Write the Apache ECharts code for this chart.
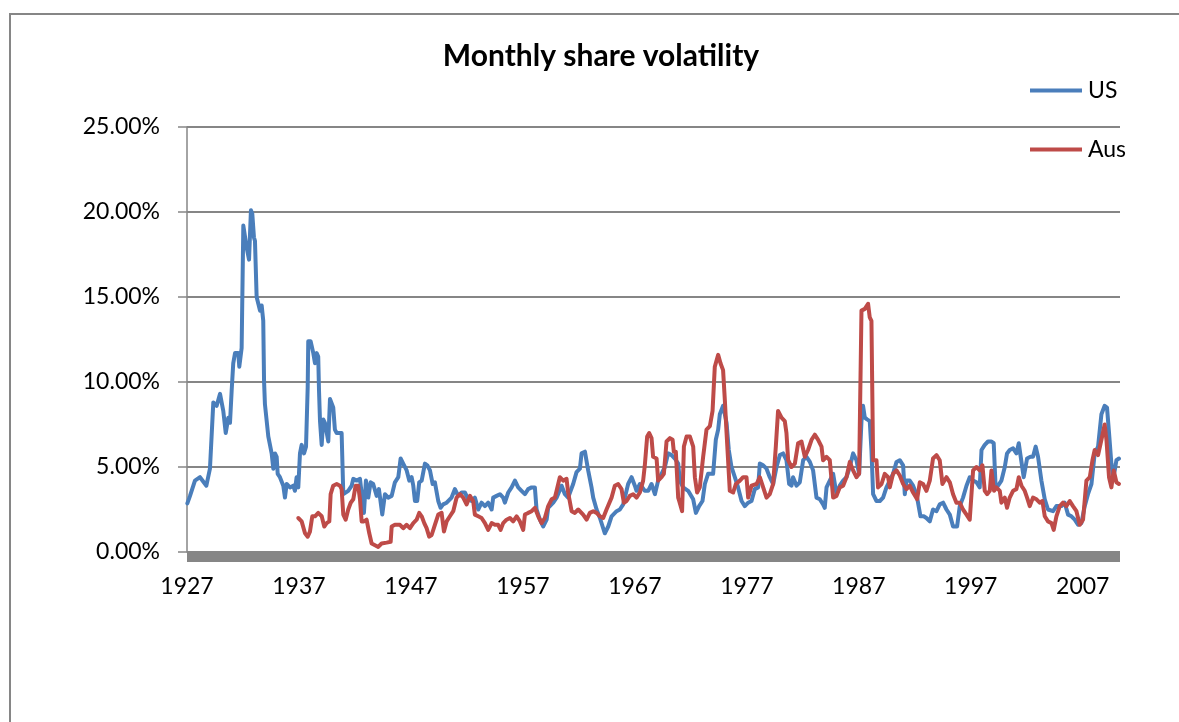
<!DOCTYPE html>
<html><head><meta charset="utf-8">
<script src="https://cdn.jsdelivr.net/npm/echarts@6/dist/echarts.min.js"></script>
<style>html,body{margin:0;padding:0;background:#fff}#c{width:1179px;height:722px}</style>
</head><body><div id="c"></div>
<script>
const seriesNames = ['US', 'Aus'];
const xTickStart = 1927, xTickStep = 10, xEnd = 2010.33;
const yTickStep = 5, yMax = 25;

const usYear = [1927.03,1927.27,1927.71,1928.16,1928.73,1929.05,1929.35,1929.65,1929.95,1930.24,1930.46,1930.69,1930.84,1930.99,1931.13,1931.29,1931.58,1931.67,1931.88,1932.03,1932.18,1932.33,1932.54,1932.71,1932.83,1932.98,1933.07,1933.22,1933.37,1933.52,1933.67,1933.81,1933.88,1933.96,1934.26,1934.56,1934.71,1934.86,1935.01,1935.10,1935.30,1935.60,1935.75,1935.90,1936.20,1936.49,1936.64,1936.79,1936.94,1937.09,1937.24,1937.45,1937.63,1937.78,1937.83,1938.04,1938.28,1938.43,1938.58,1938.72,1938.79,1938.88,1939.03,1939.17,1939.32,1939.47,1939.62,1939.77,1939.92,1940.06,1940.21,1940.37,1940.81,1940.96,1941.40,1941.71,1941.85,1942.15,1942.45,1942.60,1942.80,1942.98,1943.19,1943.40,1943.63,1943.94,1944.14,1944.44,1944.68,1944.97,1945.28,1945.57,1945.87,1946.08,1946.31,1946.62,1946.85,1947.06,1947.21,1947.36,1947.56,1947.74,1947.96,1948.25,1948.46,1948.70,1948.94,1949.14,1949.44,1949.65,1949.88,1950.19,1950.63,1950.93,1951.22,1951.53,1951.82,1952.12,1952.42,1952.71,1953.01,1953.31,1953.61,1953.90,1954.21,1954.35,1954.65,1954.95,1955.24,1955.39,1955.69,1955.99,1956.29,1956.58,1956.88,1957.18,1957.47,1957.78,1958.07,1958.22,1958.52,1958.81,1959.12,1959.26,1959.71,1960.01,1960.46,1960.75,1961.04,1961.49,1961.79,1962.09,1962.24,1962.54,1962.69,1962.83,1963.13,1963.28,1963.58,1963.88,1964.12,1964.32,1964.62,1964.92,1965.37,1965.66,1965.96,1966.40,1966.71,1967.00,1967.15,1967.45,1967.89,1968.19,1968.49,1968.79,1969.08,1969.38,1969.68,1969.97,1970.28,1970.57,1970.87,1971.02,1971.31,1971.76,1972.21,1972.45,1972.74,1973.04,1973.25,1973.54,1973.99,1974.23,1974.44,1974.59,1974.88,1975.19,1975.39,1975.63,1975.93,1976.22,1976.53,1976.82,1977.12,1977.42,1977.71,1978.01,1978.16,1978.46,1978.76,1979.05,1979.35,1979.65,1979.95,1980.24,1980.54,1980.78,1980.99,1981.13,1981.44,1981.73,1982.03,1982.33,1982.63,1982.92,1983.22,1983.52,1983.81,1983.96,1984.12,1984.41,1984.71,1985.01,1985.30,1985.60,1985.90,1986.20,1986.49,1986.79,1987.03,1987.24,1987.38,1987.54,1987.74,1987.98,1988.13,1988.28,1988.58,1988.88,1989.17,1989.47,1989.77,1990.06,1990.37,1990.66,1990.96,1991.11,1991.26,1991.55,1991.85,1992.15,1992.29,1992.51,1992.80,1993.04,1993.34,1993.63,1993.94,1994.23,1994.53,1994.83,1995.13,1995.42,1995.78,1996.02,1996.31,1996.62,1996.91,1997.21,1997.51,1997.80,1997.96,1998.25,1998.54,1998.85,1999.05,1999.21,1999.44,1999.74,2000.04,2000.24,2000.48,2000.78,2001.08,2001.29,2001.44,2001.73,2002.03,2002.33,2002.56,2002.80,2003.01,2003.31,2003.61,2003.90,2004.35,2004.65,2005.10,2005.39,2005.69,2005.99,2006.29,2006.58,2006.88,2007.18,2007.47,2007.78,2008.07,2008.37,2008.67,2008.96,2009.17,2009.35,2009.56,2009.71,2009.86,2010.01,2010.24];
const usVol = [2.86,3.3,4.2,4.4,3.9,4.9,8.8,8.6,9.3,8.3,7.0,7.9,7.6,9.5,11.1,11.7,11.7,10.9,12.0,19.2,19.1,17.9,17.2,20.1,19.9,18.5,18.3,15.0,14.6,14.2,14.5,13.6,10.1,8.7,6.8,5.8,4.9,5.8,5.6,4.6,4.4,3.9,3.2,4.0,3.8,3.9,3.6,4.4,3.8,5.8,6.3,5.8,6.2,9.7,12.4,12.4,11.7,11.1,11.7,11.5,9.5,7.7,6.3,7.8,7.6,7.7,6.5,9.0,9.1,8.5,7.2,7.0,7.0,3.4,3.6,3.9,4.3,4.2,4.3,4.2,2.3,4.2,3.2,4.1,4.0,3.3,3.7,2.2,3.4,3.2,3.3,4.1,4.4,5.5,5.2,4.8,4.2,4.4,3.9,3.0,3.0,4.1,4.2,5.2,5.1,4.8,4.0,4.1,3.0,2.6,2.8,2.9,3.2,3.7,3.3,3.5,3.5,3.1,3.0,3.2,2.5,2.9,2.7,2.9,2.5,3.2,3.3,3.4,3.2,2.9,3.5,3.8,4.2,3.8,3.6,3.4,3.7,3.8,3.8,2.5,1.9,1.5,1.9,2.6,2.9,3.2,3.9,3.4,3.2,4.0,4.7,4.9,5.8,5.9,6.0,4.8,3.8,3.2,2.5,2.0,1.5,1.1,1.5,2.1,2.4,2.5,2.8,4.0,4.4,3.9,3.6,4.0,3.6,3.6,4.0,3.4,4.2,4.6,5.0,5.8,5.7,5.5,5.2,4.2,3.8,3.6,3.1,2.3,2.7,3.0,4.0,4.6,4.6,6.6,7.2,8.1,8.6,7.6,6.0,5.0,4.4,3.8,3.0,2.7,2.9,3.0,3.7,3.8,5.2,5.1,4.9,4.4,4.0,5.0,5.7,5.8,5.4,4.0,3.9,4.4,3.9,4.1,5.4,5.6,5.3,4.8,3.2,3.1,2.8,2.6,3.8,4.2,4.6,3.4,3.9,4.2,4.4,5.0,5.8,5.4,4.6,7.7,8.6,7.9,7.8,7.7,6.0,3.4,3.0,3.0,3.2,3.8,4.2,4.6,5.3,5.4,5.1,3.4,4.2,4.2,3.9,3.4,2.9,2.1,2.1,2.0,1.8,2.5,2.4,2.8,2.9,2.5,2.2,1.5,1.5,2.7,3.2,3.9,4.4,4.2,4.1,3.8,6.0,6.3,6.5,6.5,6.4,4.0,3.9,4.2,5.0,5.8,6.0,6.1,5.8,6.4,5.7,4.4,5.5,5.6,5.6,6.2,5.6,4.2,3.1,2.5,2.4,2.7,2.7,2.9,2.2,2.1,1.9,1.6,1.7,2.7,3.4,4.0,5.8,6.2,8.1,8.6,8.5,7.0,5.2,4.4,4.8,5.4,5.5];

const ausYear = [1936.94,1937.24,1937.54,1937.78,1937.98,1938.19,1938.43,1938.72,1939.03,1939.26,1939.47,1939.71,1939.83,1940.06,1940.37,1940.66,1940.81,1940.96,1941.17,1941.40,1941.62,1941.85,1942.06,1942.29,1942.45,1942.60,1942.80,1943.04,1943.28,1943.49,1943.79,1944.08,1944.38,1944.83,1945.19,1945.28,1945.57,1946.02,1946.31,1946.62,1946.91,1947.21,1947.51,1947.74,1947.96,1948.19,1948.40,1948.63,1948.85,1949.14,1949.44,1949.74,1949.95,1950.19,1950.48,1950.78,1951.08,1951.38,1951.67,1951.97,1952.27,1952.56,1952.71,1953.01,1953.31,1953.61,1953.90,1954.21,1954.50,1954.79,1955.01,1955.24,1955.54,1955.84,1956.13,1956.44,1956.73,1957.03,1957.18,1957.47,1957.78,1958.07,1958.37,1958.67,1958.96,1959.26,1959.56,1959.86,1960.01,1960.30,1960.60,1960.90,1961.04,1961.35,1961.64,1961.94,1962.38,1962.69,1962.98,1963.28,1963.58,1963.88,1964.17,1964.47,1964.92,1965.21,1965.51,1965.81,1966.02,1966.26,1966.55,1966.85,1967.15,1967.45,1967.74,1967.89,1968.10,1968.28,1968.49,1968.63,1968.94,1969.08,1969.38,1969.59,1969.83,1970.13,1970.37,1970.48,1970.66,1970.87,1970.96,1971.22,1971.38,1971.62,1971.91,1972.21,1972.36,1972.56,1972.80,1973.10,1973.40,1973.70,1973.94,1974.14,1974.44,1974.65,1974.88,1975.04,1975.19,1975.48,1975.78,1976.02,1976.38,1976.67,1976.97,1977.12,1977.42,1977.87,1978.16,1978.46,1978.76,1979.05,1979.35,1979.59,1979.79,1980.10,1980.39,1980.54,1980.69,1980.99,1981.29,1981.58,1981.88,1982.18,1982.47,1982.78,1983.07,1983.37,1983.67,1983.81,1984.12,1984.41,1984.71,1985.01,1985.30,1985.60,1985.90,1986.20,1986.49,1986.79,1987.03,1987.24,1987.54,1987.83,1987.98,1988.13,1988.28,1988.58,1988.72,1989.03,1989.32,1989.62,1989.77,1990.06,1990.37,1990.66,1990.96,1991.26,1991.55,1991.85,1992.21,1992.45,1992.74,1993.04,1993.34,1993.63,1993.94,1994.23,1994.47,1994.83,1995.13,1995.42,1995.72,1996.02,1996.31,1996.62,1996.91,1997.21,1997.51,1997.80,1998.04,1998.25,1998.46,1998.70,1998.85,1999.08,1999.29,1999.59,1999.74,2000.04,2000.24,2000.48,2000.78,2001.08,2001.29,2001.53,2001.82,2002.03,2002.27,2002.56,2002.87,2003.16,2003.40,2003.61,2003.90,2004.21,2004.41,2004.65,2004.95,2005.24,2005.54,2005.84,2006.13,2006.44,2006.73,2007.03,2007.33,2007.63,2007.87,2008.07,2008.37,2008.67,2008.96,2009.12,2009.35,2009.56,2009.77,2010.01,2010.24];
const ausVol = [2.0,1.8,1.1,0.9,1.2,2.1,2.1,2.3,2.1,1.5,1.7,1.8,3.4,3.9,4.0,3.9,3.7,2.2,1.9,2.5,2.9,3.1,3.9,3.9,3.1,1.8,1.8,1.9,1.1,0.5,0.4,0.3,0.5,0.55,0.6,1.5,1.6,1.6,1.4,1.6,1.4,1.7,1.9,2.3,2.1,1.7,1.4,0.9,1.0,1.6,2.2,2.3,1.2,1.8,2.1,2.4,3.2,3.4,3.2,2.8,3.3,3.0,2.2,2.1,2.0,1.7,1.3,1.7,1.6,1.6,1.3,1.7,1.9,2.0,1.8,2.1,1.8,1.3,2.2,2.3,2.4,2.6,2.1,1.7,2.0,2.7,3.1,3.2,3.6,4.4,4.2,4.3,3.5,2.4,2.3,2.5,2.2,1.9,2.3,2.4,2.3,2.1,2.0,2.5,3.2,3.9,4.0,3.7,2.9,3.0,3.3,3.4,3.2,3.5,4.2,5.1,6.8,7.0,6.7,5.6,5.5,4.2,4.4,4.6,6.5,6.7,6.6,5.9,5.9,3.2,3.0,2.4,6.2,6.8,6.8,6.2,4.4,3.5,3.8,5.6,7.2,7.4,8.3,10.9,11.6,11.1,10.7,8.9,7.0,3.6,3.5,4.0,4.2,4.4,4.4,3.2,3.9,4.0,4.4,3.8,3.2,3.4,4.0,6.2,8.3,7.9,7.7,7.0,5.4,5.0,5.2,6.4,6.5,5.6,6.0,6.6,6.9,6.6,6.2,5.4,5.6,5.4,3.2,3.3,3.8,3.9,4.4,5.3,4.8,4.4,4.6,14.2,14.3,14.6,13.8,13.6,5.4,5.4,3.8,4.0,4.6,4.4,3.8,4.6,4.8,4.5,4.0,3.7,3.9,3.5,3.1,4.1,4.0,3.6,4.2,5.5,5.7,5.4,4.0,4.4,4.1,3.4,2.9,2.9,2.5,2.2,1.9,4.8,5.0,4.8,5.1,3.6,3.4,3.6,4.8,3.6,3.8,3.6,2.9,3.2,2.6,3.2,3.6,3.7,4.4,3.9,3.6,3.2,2.7,3.2,3.1,2.9,3.0,2.1,1.8,1.7,1.3,2.1,2.7,2.9,2.7,3.0,2.7,2.4,1.6,1.9,4.2,4.4,5.4,6.0,5.7,6.6,7.5,6.6,4.4,3.8,4.8,4.1,4.0];

const FONT = 'Lato, "Open Sans", sans-serif';
const GRAY = '#868686';
const chart = echarts.init(document.getElementById('c'), null, {renderer: 'canvas'});
const zip = (xs, ys) => xs.map((x, i) => [x, ys[i]]);

chart.setOption({
  backgroundColor: '#fff',
  animation: false,
  graphic: [{
    type: 'rect', shape: {x: 10, y: 14, width: 1400, height: 900},
    style: {fill: 'none', stroke: GRAY, lineWidth: 2}, silent: true, z: -10
  }],
  title: {
    text: 'Monthly share volatility', left: 601, top: 41, textAlign: 'center', padding: 0,
    textStyle: {fontFamily: FONT, fontWeight: 'bold', fontSize: 30, color: '#000'}
  },
  legend: {
    data: seriesNames, orient: 'vertical', left: 1030, top: 79, padding: 0,
    icon: 'rect', itemWidth: 52, itemHeight: 4, itemGap: 36,
    textStyle: {fontFamily: FONT, fontSize: 23, color: '#000', padding: [0, 0, 0, 1]}
  },
  grid: {left: 187, right: 59, top: 127, bottom: 170, containLabel: false},
  xAxis: {
    type: 'value', min: xTickStart, max: xEnd, interval: xTickStep,
    offset: 5,
    axisLine: {onZero: false, lineStyle: {color: GRAY, width: 9, cap: 'butt'}},
    axisTick: {show: false},
    splitLine: {show: false},
    axisLabel: {
      showMaxLabel: false, margin: 18, fontFamily: FONT, fontSize: 23, color: '#000',
      formatter: v => String(Math.round(v))
    }
  },
  yAxis: {
    type: 'value', min: 0, max: yMax, interval: yTickStep,
    axisLine: {show: true, lineStyle: {color: GRAY, width: 1.5}},
    axisTick: {show: true, length: 9, lineStyle: {color: GRAY, width: 1.5}},
    splitLine: {show: true, lineStyle: {color: GRAY, width: 1.8}},
    axisLabel: {
      margin: 27, fontFamily: FONT, fontSize: 23, color: '#000',
      formatter: v => v.toFixed(2) + '%'
    }
  },
  series: [
    {name: seriesNames[0], type: 'line', data: zip(usYear, usVol), showSymbol: false,
     color: '#4A7EBB', lineStyle: {width: 4, color: '#4A7EBB', join: 'round', cap: 'round'}},
    {name: seriesNames[1], type: 'line', data: zip(ausYear, ausVol), showSymbol: false,
     color: '#BE4B48', lineStyle: {width: 4, color: '#BE4B48', join: 'round', cap: 'round'}}
  ]
});
</script></body></html>
